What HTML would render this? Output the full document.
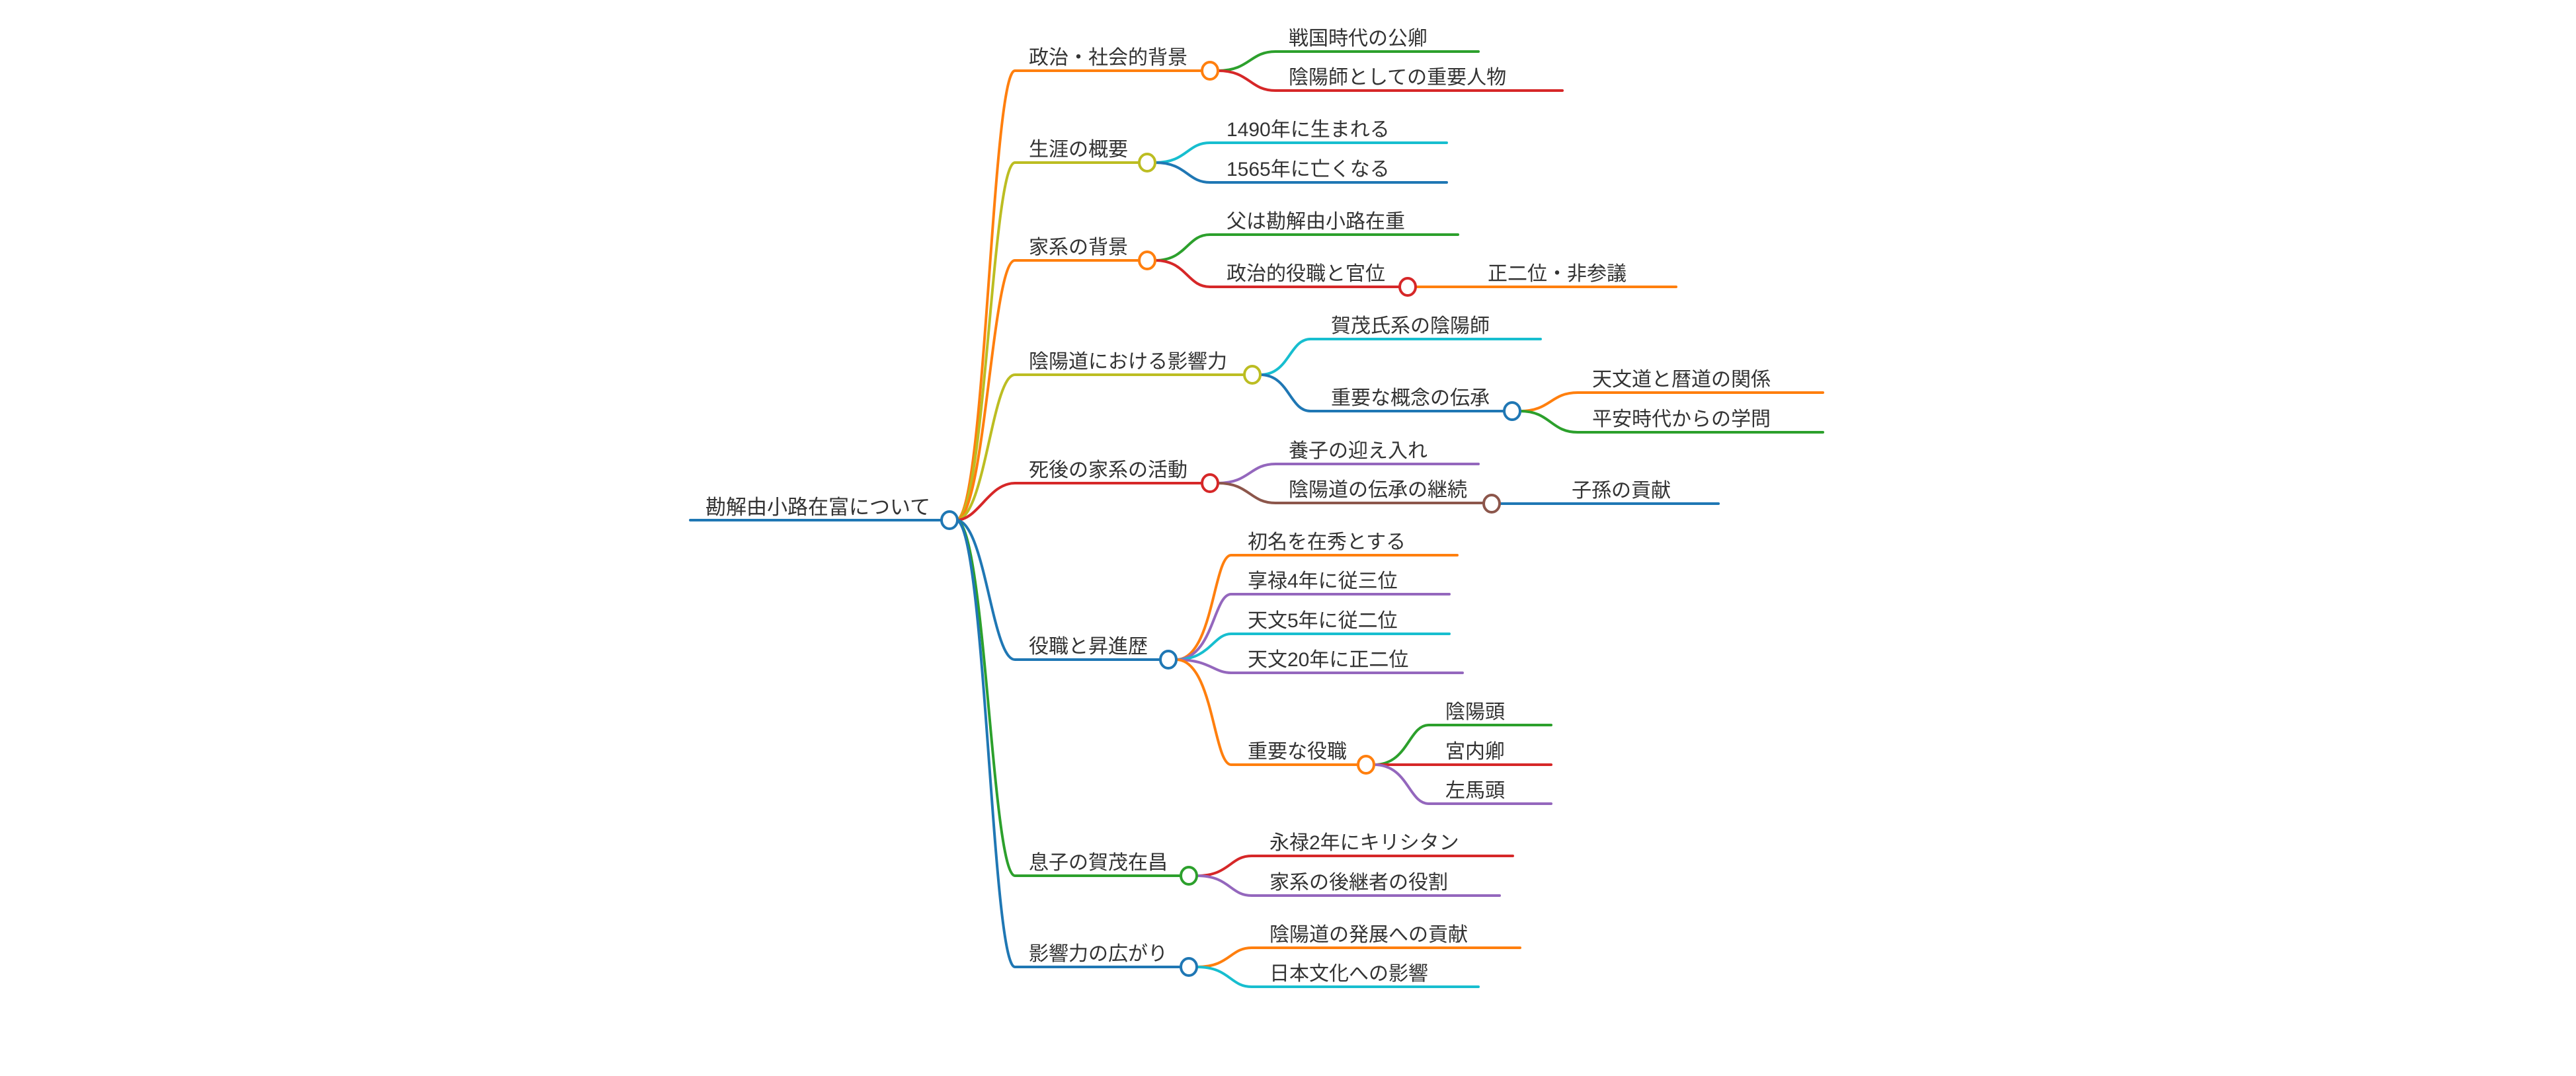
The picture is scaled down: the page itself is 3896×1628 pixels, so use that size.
<!DOCTYPE html>
<html><head><meta charset="utf-8"><style>
html,body{margin:0;padding:0;background:#fff;}
svg{display:block;}
text{font-family:"Liberation Sans","Noto Sans CJK JP",sans-serif;font-size:30px;fill:#333;}
path,line{fill:none;stroke-width:4;stroke-linecap:round;}
ellipse{fill:#fff;stroke-width:4;}
</style></head><body>
<svg width="3896" height="1628" viewBox="0 0 3896 1628" xmlns="http://www.w3.org/2000/svg">
<!-- root -->
<line x1="1044" y1="787" x2="1424" y2="787" stroke="#1f77b4"/>
<text x="1067" y="778" style="font-size:31px">勘解由小路在富について</text>

<!-- level1 curves -->
<path d="M1446 787 C1490 787 1500 107 1535 107 L1818 107" stroke="#ff7f0e"/>
<path d="M1446 787 C1490 787 1500 246 1535 246 L1723 246" stroke="#bcbd22"/>
<path d="M1446 787 C1490 787 1500 394 1535 394 L1723 394" stroke="#ff7f0e"/>
<path d="M1446 787 C1490 787 1500 567 1535 567 L1882 567" stroke="#bcbd22"/>
<path d="M1446 787 C1480 787 1495 731 1535 731 L1818 731" stroke="#d62728"/>
<path d="M1446 787 C1490 787 1500 998 1535 998 L1755 998" stroke="#1f77b4"/>
<path d="M1446 787 C1490 787 1500 1325 1535 1325 L1786 1325" stroke="#2ca02c"/>
<path d="M1446 787 C1490 787 1500 1463 1535 1463 L1786 1463" stroke="#1f77b4"/>

<text x="1556" y="97">政治・社会的背景</text>
<text x="1556" y="236">生涯の概要</text>
<text x="1556" y="384">家系の背景</text>
<text x="1556" y="557">陰陽道における影響力</text>
<text x="1556" y="721">死後の家系の活動</text>
<text x="1556" y="988">役職と昇進歴</text>
<text x="1556" y="1315">息子の賀茂在昌</text>
<text x="1556" y="1453">影響力の広がり</text>

<!-- 政治 children -->
<path d="M1842 107 C1890 107 1890 78 1929 78 L2236 78" stroke="#2ca02c"/>
<path d="M1842 107 C1890 107 1890 137 1929 137 L2363 137" stroke="#d62728"/>
<text x="1949" y="68">戦国時代の公卿</text>
<text x="1949" y="127">陰陽師としての重要人物</text>
<ellipse cx="1830" cy="107" rx="12" ry="13" stroke="#ff7f0e"/>

<!-- 生涯 -->
<path d="M1747 246 C1795 246 1795 216 1830 216 L2188 216" stroke="#17becf"/>
<path d="M1747 246 C1795 246 1795 276 1830 276 L2188 276" stroke="#1f77b4"/>
<text x="1855" y="206">1490年に生まれる</text>
<text x="1855" y="266">1565年に亡くなる</text>
<ellipse cx="1735" cy="246" rx="12" ry="13" stroke="#bcbd22"/>

<!-- 家系 -->
<path d="M1747 394 C1795 394 1795 355 1830 355 L2205 355" stroke="#2ca02c"/>
<path d="M1747 394 C1795 394 1795 434 1830 434 L2117 434" stroke="#d62728"/>
<path d="M2141 434 L2535 434" stroke="#ff7f0e"/>
<text x="1855" y="345">父は勘解由小路在重</text>
<text x="1855" y="424">政治的役職と官位</text>
<text x="2250" y="424">正二位・非参議</text>
<ellipse cx="1735" cy="394" rx="12" ry="13" stroke="#ff7f0e"/>
<ellipse cx="2129" cy="434" rx="12" ry="13" stroke="#d62728"/>

<!-- 陰陽道 -->
<path d="M1906 567 C1950 567 1950 513 1982 513 L2330 513" stroke="#17becf"/>
<path d="M1906 567 C1950 567 1950 622 1982 622 L2275 622" stroke="#1f77b4"/>
<text x="2013" y="503">賀茂氏系の陰陽師</text>
<text x="2013" y="612">重要な概念の伝承</text>
<path d="M2299 622 C2345 622 2345 594 2386 594 L2757 594" stroke="#ff7f0e"/>
<path d="M2299 622 C2345 622 2345 654 2386 654 L2757 654" stroke="#2ca02c"/>
<text x="2408" y="584">天文道と暦道の関係</text>
<text x="2408" y="644">平安時代からの学問</text>
<ellipse cx="1894" cy="567" rx="12" ry="13" stroke="#bcbd22"/>
<ellipse cx="2287" cy="622" rx="12" ry="13" stroke="#1f77b4"/>

<!-- 死後 -->
<path d="M1842 731 C1890 731 1890 702 1929 702 L2236 702" stroke="#9467bd"/>
<path d="M1842 731 C1890 731 1890 761 1929 761 L2244 761" stroke="#8c564b"/>
<path d="M2268 762 L2599 762" stroke="#1f77b4"/>
<text x="1949" y="692">養子の迎え入れ</text>
<text x="1949" y="751">陰陽道の伝承の継続</text>
<text x="2377" y="752">子孫の貢献</text>
<ellipse cx="1830" cy="731" rx="12" ry="13" stroke="#d62728"/>
<ellipse cx="2256" cy="762" rx="12" ry="13" stroke="#8c564b"/>

<!-- 役職 -->
<path d="M1779 998 C1835 998 1835 840 1862 840 L2204 840" stroke="#ff7f0e"/>
<path d="M1779 998 C1835 998 1835 899 1862 899 L2192 899" stroke="#9467bd"/>
<path d="M1779 998 C1830 998 1835 959 1862 959 L2192 959" stroke="#17becf"/>
<path d="M1779 998 C1830 998 1835 1018 1862 1018 L2212 1018" stroke="#9467bd"/>
<path d="M1779 998 C1835 998 1835 1157 1862 1157 L2054 1157" stroke="#ff7f0e"/>
<text x="1887" y="830">初名を在秀とする</text>
<text x="1887" y="889">享禄4年に従三位</text>
<text x="1887" y="949">天文5年に従二位</text>
<text x="1887" y="1008">天文20年に正二位</text>
<text x="1887" y="1147">重要な役職</text>
<path d="M2078 1157 C2130 1157 2130 1097 2161 1097 L2346 1097" stroke="#2ca02c"/>
<path d="M2078 1157 L2346 1157" stroke="#d62728"/>
<path d="M2078 1157 C2130 1157 2130 1216 2161 1216 L2346 1216" stroke="#9467bd"/>
<text x="2186" y="1087">陰陽頭</text>
<text x="2186" y="1147">宮内卿</text>
<text x="2186" y="1206">左馬頭</text>
<ellipse cx="1767" cy="998" rx="12" ry="13" stroke="#1f77b4"/>
<ellipse cx="2066" cy="1157" rx="12" ry="13" stroke="#ff7f0e"/>

<!-- 息子 -->
<path d="M1810 1325 C1860 1325 1860 1295 1893 1295 L2288 1295" stroke="#d62728"/>
<path d="M1810 1325 C1860 1325 1860 1355 1893 1355 L2268 1355" stroke="#9467bd"/>
<text x="1920" y="1285">永禄2年にキリシタン</text>
<text x="1920" y="1345">家系の後継者の役割</text>
<ellipse cx="1798" cy="1325" rx="12" ry="13" stroke="#2ca02c"/>

<!-- 影響力 -->
<path d="M1810 1463 C1860 1463 1860 1434 1893 1434 L2299 1434" stroke="#ff7f0e"/>
<path d="M1810 1463 C1860 1463 1860 1493 1893 1493 L2236 1493" stroke="#17becf"/>
<text x="1920" y="1424">陰陽道の発展への貢献</text>
<text x="1920" y="1483">日本文化への影響</text>
<ellipse cx="1798" cy="1463" rx="12" ry="13" stroke="#1f77b4"/>

<ellipse cx="1436" cy="787" rx="12" ry="13" stroke="#1f77b4"/>
</svg>
</body></html>
